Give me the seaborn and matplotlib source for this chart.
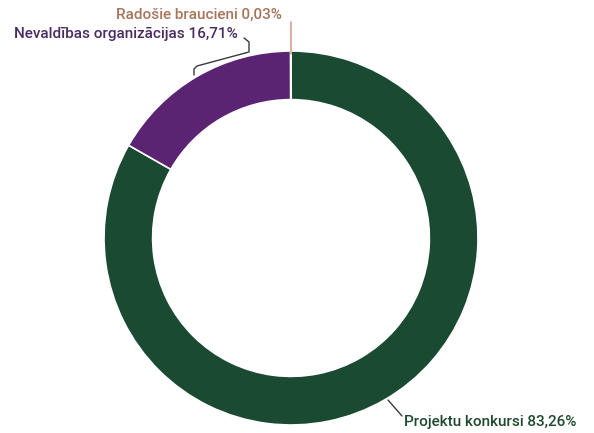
import matplotlib.pyplot as plt
import seaborn as sns

# Dati
labels = ["Projektu konkursi", "Nevaldības organizācijas", "Radošie braucieni"]
values = [83.26, 16.71, 0.03]
colors = ["#1b4a33", "#5a2473", "#d2a48e"]
text_colors = ["#1f4a30", "#4a2c63", "#a8755a"]

sns.set_theme(style="white")
plt.rcParams['font.family'] = ['Roboto', 'DejaVu Sans']

fig = plt.figure(figsize=(5.94, 4.33), dpi=100)
ax = fig.add_axes([0, 0, 1, 1])

# centrs pikseļos (y uz augšu)
cx, cy, r = 291, 433 - 238, 187
ax.pie(values, colors=colors, startangle=90, counterclock=False,
       center=(cx, cy), radius=r,
       wedgeprops=dict(width=r * 0.26, edgecolor="white", linewidth=1.2))
ax.set_xlim(0, 594)
ax.set_ylim(0, 433)
ax.set_aspect("equal")
ax.axis("off")

def lbl(x, y, i):
    ax.text(x, 433 - y, f"{labels[i]} {values[i]:.2f}%".replace(".", ","),
            color=text_colors[i], fontsize=11, fontweight="medium",
            ha="left", va="center")

# Radošie braucieni
lbl(116, 15, 2)
ax.plot([291, 291], [433 - 22, 433 - 54], color=colors[2], lw=1.2)

# Nevaldības organizācijas
lbl(14, 34, 1)
ax.plot([244, 249, 249, 197, 194, 194], [433 - 38, 433 - 42, 433 - 52, 433 - 66, 433 - 69, 433 - 75],
        color="#3a3a3a", lw=1)

# Projektu konkursi
lbl(404, 422, 0)
ax.plot([388, 402], [433 - 400, 433 - 416], color="#3a3a3a", lw=1)

fig.savefig("out.png", dpi=100)
